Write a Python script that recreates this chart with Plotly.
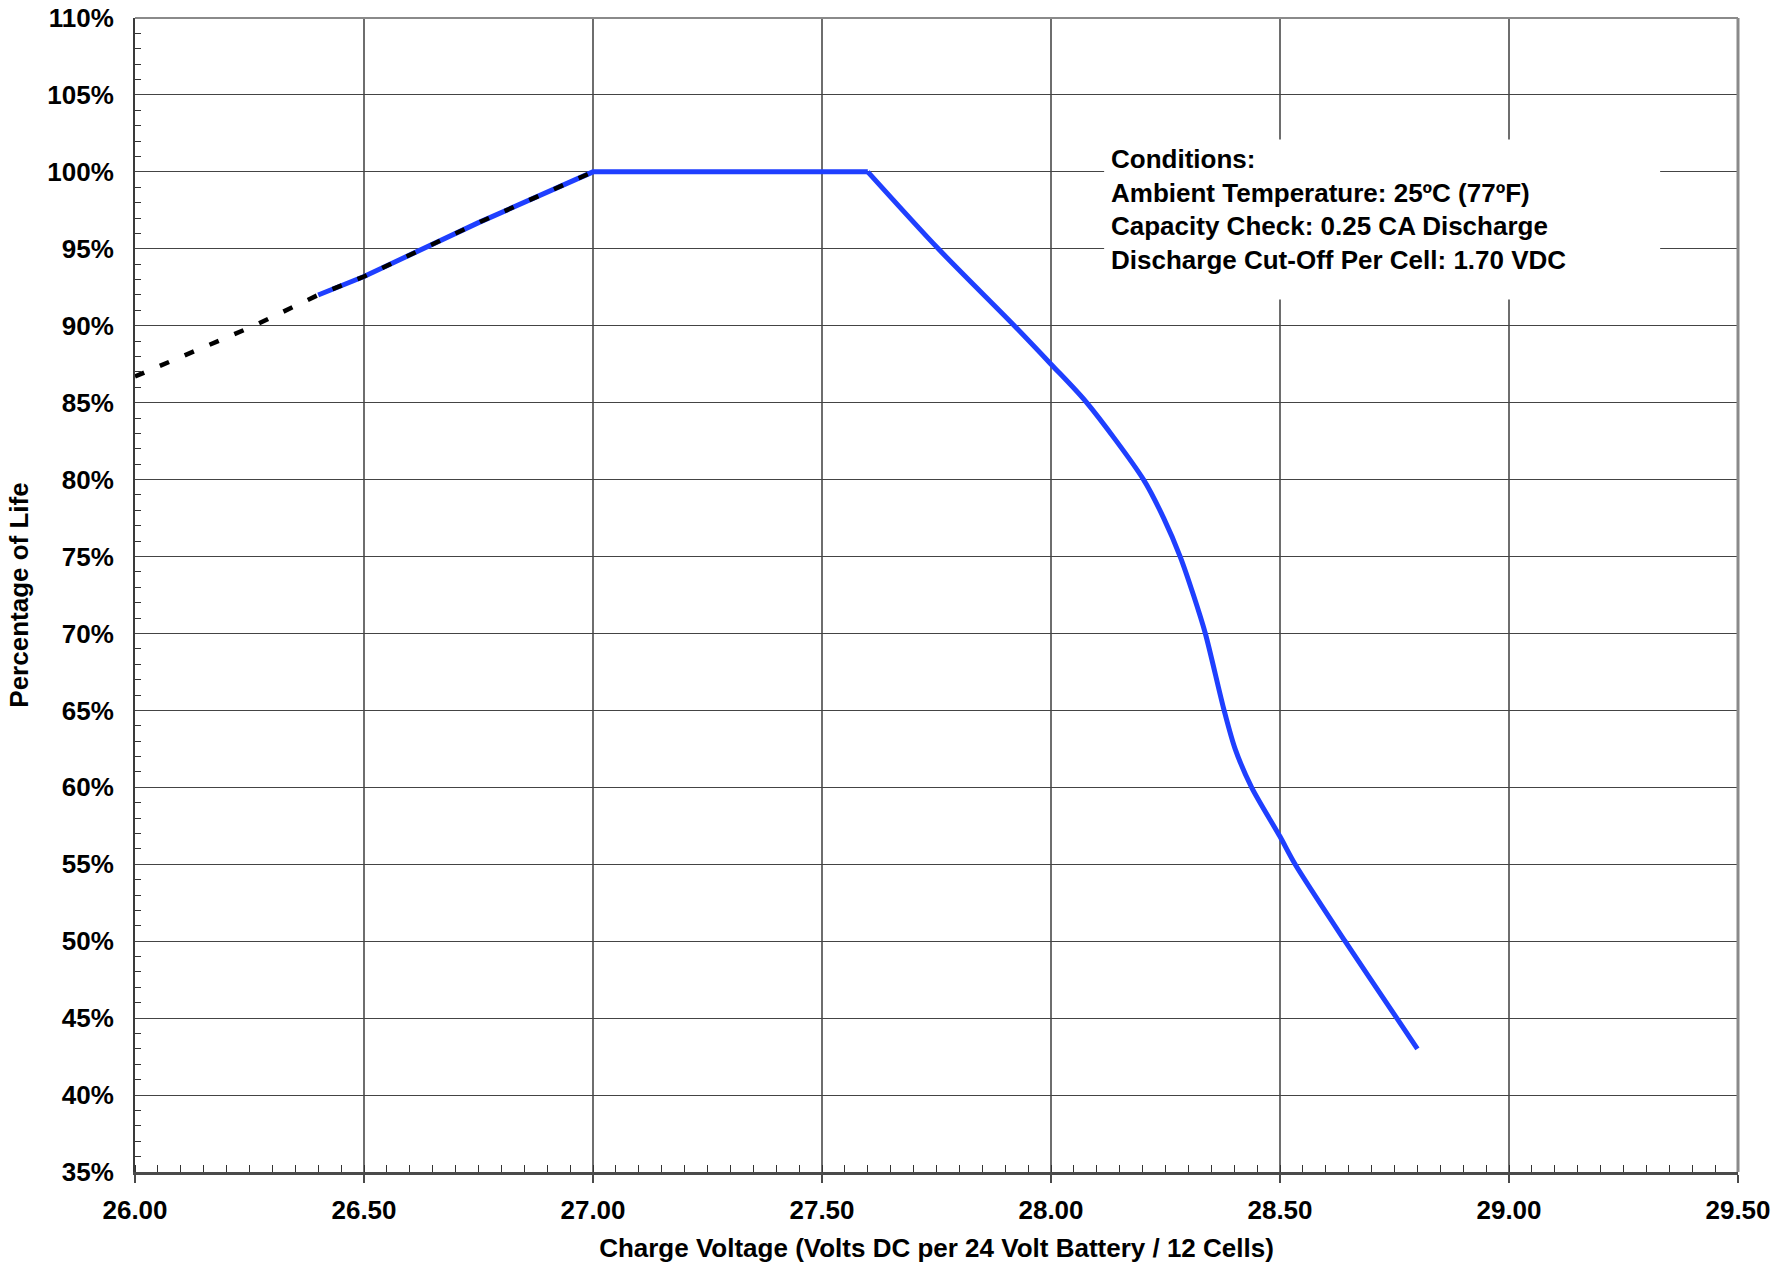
import plotly.graph_objects as go

# Float-charge life curve: rising segment and plateau (straight lines)
rise_voltage = [26.40, 26.50, 26.75, 27.00, 27.60]
rise_percent = [92.0, 93.2, 96.7, 100.0, 100.0]

# Falling segment above the float range (smooth curve)
fall_voltage = [27.60, 27.754, 27.92, 28.00, 28.078, 28.202, 28.246,
                28.282, 28.311, 28.337, 28.378, 28.402, 28.438, 28.50, 28.533,
                28.642, 28.755, 28.80]
fall_percent = [100.0, 95.0, 90.0, 87.5, 85.0, 80.0, 77.5,
                75.0, 72.5, 70.0, 65.0, 62.5, 60.0, 56.8, 55.0,
                50.0, 45.0, 43.0]

# Extrapolated region below the rated float range
extrap_voltage = [26.00, 26.26, 26.40, 26.50, 26.75, 27.00]
extrap_percent = [86.7, 90.0, 92.0, 93.2, 96.7, 100.0]

conditions_lines = [
    "Conditions:",
    "Ambient Temperature: 25ºC (77ºF)",
    "Capacity Check: 0.25 CA Discharge",
    "Discharge Cut-Off Per Cell: 1.70 VDC",
]
conditions_y = [100.85, 98.65, 96.45, 94.25]

FONT = "Liberation Sans, Arial, sans-serif"
BLUE = "#1f3fff"

fig = go.Figure()
fig.add_trace(go.Scatter(
    x=rise_voltage, y=rise_percent, mode="lines",
    line=dict(color=BLUE, width=5), showlegend=False, hoverinfo="skip",
))
fig.add_trace(go.Scatter(
    x=fall_voltage, y=fall_percent, mode="lines",
    line=dict(color=BLUE, width=5, shape="spline", smoothing=0.8),
    showlegend=False, hoverinfo="skip",
))
fig.add_trace(go.Scatter(
    x=extrap_voltage, y=extrap_percent, mode="lines",
    line=dict(color="black", width=4.5, dash="10px,17px"),
    showlegend=False, hoverinfo="skip",
))

# White panel behind the test conditions (covers the grid)
fig.add_shape(type="rect", xref="x", yref="y", x0=28.116, x1=29.33, y0=91.7, y1=102.1,
              fillcolor="white", line=dict(width=0), layer="between")
for txt, yy in zip(conditions_lines, conditions_y):
    fig.add_annotation(x=28.127, y=yy, xref="x", yref="y", text=txt,
                       showarrow=False, xanchor="left", yanchor="middle",
                       font=dict(family=FONT, size=26, color="black", weight="bold"))

# Top and right frame of the plot area
fig.add_shape(type="line", xref="paper", yref="paper", x0=0, x1=1, y0=1, y1=1,
              line=dict(color="#8a8a8a", width=2))
fig.add_shape(type="line", xref="paper", yref="paper", x0=1, x1=1, y0=0, y1=1,
              line=dict(color="#8a8a8a", width=3))

fig.update_layout(
    width=1792, height=1263,
    margin=dict(l=135, r=54, t=18, b=91, pad=0),
    paper_bgcolor="white", plot_bgcolor="white",
    font=dict(family=FONT, color="black"),
    xaxis=dict(
        range=[26.0, 29.5], dtick=0.5, tick0=26.0, tickformat=".2f",
        automargin=False,
        showgrid=True, gridcolor="#6e6e6e", gridwidth=1.5,
        showline=True, linecolor="#4a4a4a", linewidth=2.5,
        ticks="outside", ticklen=8, tickcolor="#4a4a4a", tickwidth=1.5,
        ticklabelstandoff=5,
        minor=dict(dtick=0.05, ticks="inside", ticklen=7, tickcolor="#333333",
                   tickwidth=1, showgrid=False),
        tickfont=dict(family=FONT, size=26, color="black", weight="bold"),
        title=dict(text="Charge Voltage (Volts DC per 24 Volt Battery / 12 Cells)",
                   font=dict(family=FONT, size=26, color="black", weight="bold"),
                   standoff=18),
        zeroline=False,
    ),
    yaxis=dict(
        range=[35, 110], dtick=5, tick0=35, ticksuffix="%",
        automargin=False,
        showgrid=True, gridcolor="#444444", gridwidth=1.2,
        showline=True, linecolor="#3a3a3a", linewidth=2,
        ticks="", ticklabelstandoff=14,
        minor=dict(dtick=1, ticks="inside", ticklen=6, tickcolor="#333333",
                   tickwidth=1, showgrid=False),
        tickfont=dict(family=FONT, size=26, color="black", weight="bold"),
        title=dict(text="Percentage of Life",
                   font=dict(family=FONT, size=26, color="black", weight="bold"),
                   standoff=11),
        zeroline=False,
    ),
)

fig.write_html("out.html")
